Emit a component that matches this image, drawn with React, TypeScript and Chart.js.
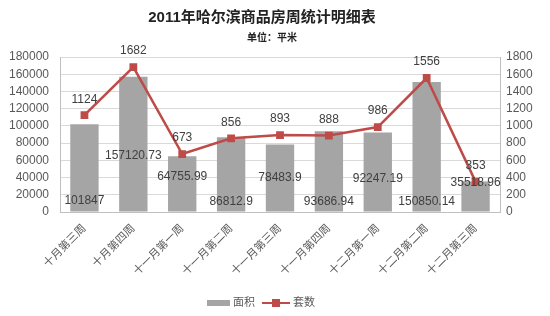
import React, { useEffect, useRef } from "react";
import { Chart, registerables } from "chart.js";

Chart.register(...registerables);

const TITLE = "2011年哈尔滨商品房周统计明细表";
const SUBTITLE = "单位：平米";
const categories = [
  "十月第三周",
  "十月第四周",
  "十一月第一周",
  "十一月第二周",
  "十一月第三周",
  "十一月第四周",
  "十二月第一周",
  "十二月第二周",
  "十二月第三周",
];
const areaValues = [101847, 157120.73, 64755.99, 86812.9, 78483.9, 93686.94, 92247.19, 150850.14, 35518.96];
const countValues = [1124, 1682, 673, 856, 893, 888, 986, 1556, 353];
const areaLabels = ["101847", "157120.73", "64755.99", "86812.9", "78483.9", "93686.94", "92247.19", "150850.14", "35518.96"];
const seriesNames = ["面积", "套数"];
// label offsets (px above the x axis) for the area labels, as Excel placed them
const areaLabelLift = [11, 56, 35, 10, 34, 10, 33, 10, 29];

const FONT = "'Liberation Sans', 'Noto Sans CJK SC', sans-serif";
const BAR = "#a5a5a5";
const RED = "#be4b48";
const TXT = "#404040";

const textPlugin = {
  id: "texts",
  afterDatasetsDraw(chart: any) {
    const ctx = chart.ctx;
    const ys = chart.scales.y;
    ctx.save();
    // title
    ctx.fillStyle = "#222";
    ctx.textAlign = "center";
    ctx.textBaseline = "middle";
    ctx.font = `bold 15px ${FONT}`;
    ctx.fillText(TITLE, 262, 18);
    ctx.font = `bold 10px ${FONT}`;
    ctx.fillText(SUBTITLE, 272, 38);
    // bar labels
    ctx.fillStyle = TXT;
    ctx.font = `12px ${FONT}`;
    const barMeta = chart.getDatasetMeta(0);
    barMeta.data.forEach((el: any, i: number) => {
      ctx.fillText(areaLabels[i], el.x, ys.bottom - areaLabelLift[i]);
    });
    // line labels
    const lineMeta = chart.getDatasetMeta(1);
    lineMeta.data.forEach((el: any, i: number) => {
      ctx.fillText(String(countValues[i]), el.x, el.y - 16);
    });
    // legend
    const ly = 303;
    ctx.fillStyle = BAR;
    ctx.fillRect(207, ly - 3, 23, 6);
    ctx.fillStyle = "#595959";
    ctx.textAlign = "left";
    ctx.font = `11px ${FONT}`;
    ctx.fillText(seriesNames[0], 233, ly);
    ctx.strokeStyle = RED;
    ctx.lineWidth = 2;
    ctx.beginPath();
    ctx.moveTo(262, ly);
    ctx.lineTo(290, ly);
    ctx.stroke();
    ctx.fillStyle = RED;
    ctx.fillRect(272, ly - 4, 8, 8);
    ctx.fillStyle = "#595959";
    ctx.fillText(seriesNames[1], 293, ly);
    ctx.restore();
  },
};

export default function App() {
  const ref = useRef<HTMLCanvasElement>(null);
  useEffect(() => {
    document.body.style.margin = "0";
    const chart = new Chart(ref.current!, {
      type: "bar",
      data: {
        labels: categories,
        datasets: [
          {
            type: "bar",
            label: seriesNames[0],
            data: areaValues,
            backgroundColor: BAR,
            yAxisID: "y",
            barPercentage: 0.58,
            categoryPercentage: 1,
            order: 2,
          },
          {
            type: "line",
            label: seriesNames[1],
            data: countValues,
            borderColor: RED,
            backgroundColor: RED,
            borderWidth: 2.5,
            pointStyle: "rect",
            pointRadius: 5.5,
            pointBorderWidth: 0,
            yAxisID: "y1",
            order: 1,
          } as any,
        ],
      },
      options: {
        responsive: false,
        animation: false,
        layout: { padding: { top: 57, left: 0, right: 0, bottom: 0 } },
        plugins: { legend: { display: false }, tooltip: { enabled: false } },
        scales: {
          x: {
            grid: { display: false },
            border: { color: "#bfbfbf" },
            ticks: {
              color: "#595959",
              font: { size: 11, family: FONT },
              maxRotation: 45,
              minRotation: 45,
              autoSkip: false,
              padding: 2,
            },
            afterFit(s: any) {
              s.height = 104;
            },
          },
          y: {
            position: "left",
            min: 0,
            max: 180000,
            ticks: {
              stepSize: 20000,
              autoSkip: false,
              color: "#595959",
              font: { size: 12, family: FONT },
              padding: 11,
              callback: (v: any) => String(v),
            },
            grid: { color: "#d9d9d9", drawTicks: false },
            border: { color: "#bfbfbf" },
            afterFit(s: any) {
              s.width = 60;
            },
          },
          y1: {
            position: "right",
            min: 0,
            max: 1800,
            ticks: {
              stepSize: 200,
              autoSkip: false,
              color: "#595959",
              font: { size: 12, family: FONT },
              padding: 6,
              callback: (v: any) => String(v),
            },
            grid: { display: false, drawTicks: false },
            border: { color: "#bfbfbf" },
            afterFit(s: any) {
              s.width = 50;
            },
          },
        },
      },
      plugins: [textPlugin],
    });
    return () => chart.destroy();
  }, []);
  return <canvas ref={ref} width={550} height={316} style={{ display: "block" }} />;
}
